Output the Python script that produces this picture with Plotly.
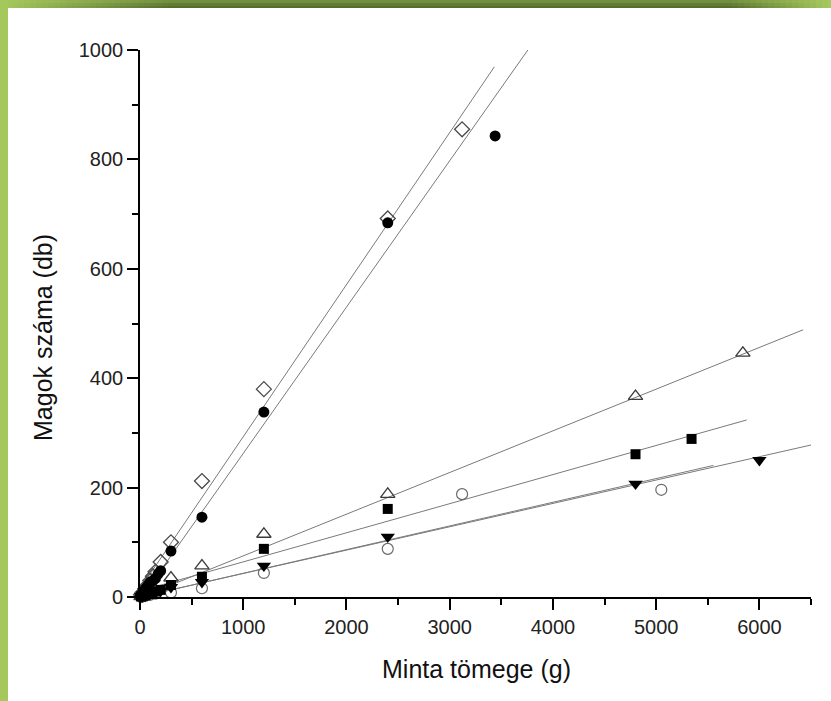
import plotly.graph_objects as go

# ---------------- data ----------------
dia_x = [10, 25, 50, 75, 100, 125, 150, 200, 300, 600, 1200, 2400, 3120]
dia_y = [4, 8, 15, 22, 30, 38, 46, 64, 100, 212, 380, 692, 855]

fc_x = [5, 10, 20, 25, 40, 50, 60, 75, 90, 100, 125, 150, 175, 200, 300, 600, 1200, 2400, 3440]
fc_y = [1, 3, 5, 7, 11, 14, 16, 20, 24, 27, 30, 34, 42, 48, 84, 146, 338, 684, 843]

ut_x = [10, 25, 50, 100, 150, 300, 600, 1200, 2400, 4800, 5840]
ut_y = [1, 2, 4, 8, 12, 35, 57, 115, 188, 367, 446]

sq_x = [10, 25, 50, 75, 100, 150, 200, 300, 600, 1200, 2400, 4800, 5343]
sq_y = [1, 2, 3, 5, 8, 10, 13, 22, 37, 88, 161, 261, 289]

dt_x = [10, 25, 50, 75, 100, 150, 200, 300, 600, 1200, 2400, 4800, 6000]
dt_y = [1, 1, 2, 4, 6, 8, 11, 18, 27, 57, 110, 207, 250]

oc_x = [10, 25, 50, 100, 150, 300, 600, 1200, 2400, 3120, 5050]
oc_y = [0, 1, 2, 4, 6, 8, 16, 44, 88, 188, 196]

# linear fit lines (slope, intercept, end of drawn line) per series
fit_slope = [0.278, 0.2675, 0.0762, 0.0532, 0.0427, 0.0433]
fit_intercept = [15, -5, -1, 11, 0.3, 0]
fit_xmax = [3432, 3784, 6424, 5877, 6600, 5555]

x_ticks = [0, 1000, 2000, 3000, 4000, 5000, 6000]
y_ticks = [0, 200, 400, 600, 800, 1000]

x_title = "Minta tömege (g)"
y_title = "Magok száma (db)"

# ---------------- figure ----------------
W, H = 831, 701
L, R, T, B = 140, 20, 50, 104
PW, PH = W - L - R, H - T - B

FONT = "Liberation Sans, Arial, Helvetica, sans-serif"

fig = go.Figure()

# fit lines
for s, b, xm in zip(fit_slope, fit_intercept, fit_xmax):
    fig.add_trace(go.Scatter(
        x=[0, xm], y=[b, b + s * xm], mode="lines",
        line=dict(color="#7a7a7a", width=1), hoverinfo="skip", showlegend=False))

series = [
    (oc_x, oc_y, "circle-open", 11, "#6a6a6a", 1.2),
    (ut_x, ut_y, "triangle-up-open", 12.5, "#3a3a3a", 1.3),
    (dia_x, dia_y, "diamond-open", 11.5, "#4a4a4a", 1.3),
    (sq_x, sq_y, "square", 10, "#000000", 0),
    (dt_x, dt_y, "triangle-down", 12.5, "#000000", 0),
    (fc_x, fc_y, "circle", 11, "#000000", 0),
]
for xs, ys, sym, size, col, lw in series:
    mk = dict(symbol=sym, size=size, color=col)
    if lw:
        mk["line"] = dict(color=col, width=lw)
    else:
        mk["line"] = dict(width=0)
    fig.add_trace(go.Scatter(x=xs, y=ys, mode="markers", marker=mk,
                             cliponaxis=False, showlegend=False))

axis_common = dict(
    showline=True, linecolor="#000000", linewidth=1.6,
    ticks="outside", ticklen=11, tickwidth=1.6, tickcolor="#000000",
    showgrid=False, zeroline=False,
    tickfont=dict(family=FONT, size=20, color="#222222"),
)
fig.update_xaxes(range=[0, 6500], tickvals=x_ticks,
                 ticktext=[str(v) for v in x_ticks],
                 minor=dict(dtick=500, tick0=0, ticks="outside", ticklen=6,
                            tickwidth=1.6, tickcolor="#000000"),
                 **axis_common)
fig.update_yaxes(range=[0, 1000], tickvals=y_ticks,
                 ticktext=[str(v) for v in y_ticks],
                 minor=dict(dtick=100, tick0=0, ticks="outside", ticklen=6,
                            tickwidth=1.6, tickcolor="#000000"),
                 **axis_common)


def px(x):
    return (x - L) / PW


def py(y):
    return (H - B - y) / PH


annotations = [
    dict(text=x_title, x=px(476), y=py(669), xref="paper", yref="paper",
         showarrow=False, xanchor="center", yanchor="middle",
         font=dict(family=FONT, size=25, color="#111111")),
    dict(text=y_title, x=px(43), y=py(338), xref="paper", yref="paper",
         showarrow=False, xanchor="center", yanchor="middle", textangle=-90,
         font=dict(family=FONT, size=25, color="#111111")),
]

# decorative green frame (left and top strips)
shapes = []


def mix(c1, c2, t):
    return "#%02x%02x%02x" % tuple(int(round(a + (b - a) * t)) for a, b in zip(c1, c2))


light = (0xa6, 0xc9, 0x5e)
top_rows = [((0x72, 0x8f, 0x3f), 0, 3), ((0x62, 0x7c, 0x35), 3, 6), ((0x55, 0x6d, 0x2d), 6, 8)]
step = 6
for x0 in range(0, W, step):
    xc = x0 + step / 2
    w = max(0.0, 1 - xc / 170.0, (xc - 730) / 100.0)
    w = min(1.0, w)
    for base, y0, y1 in top_rows:
        shapes.append(dict(type="rect", xref="paper", yref="paper",
                           x0=px(x0), x1=px(min(W, x0 + step)),
                           y0=py(y1), y1=py(y0),
                           fillcolor=mix(base, light, w), line=dict(width=0),
                           layer="above"))
shapes.append(dict(type="rect", xref="paper", yref="paper",
                   x0=px(0), x1=px(8), y0=py(H), y1=py(0),
                   fillcolor="#a4c85c", line=dict(width=0), layer="above"))

fig.update_layout(
    width=W, height=H,
    margin=dict(l=L, r=R, t=T, b=B, pad=0),
    paper_bgcolor="#ffffff", plot_bgcolor="#ffffff",
    annotations=annotations, shapes=shapes,
    showlegend=False,
)

fig.write_html(
    "out.html",
    config={"displayModeBar": False},
    post_script="document.body.style.margin='0';document.body.style.padding='0';"
                "document.body.style.overflow='hidden';",
)
